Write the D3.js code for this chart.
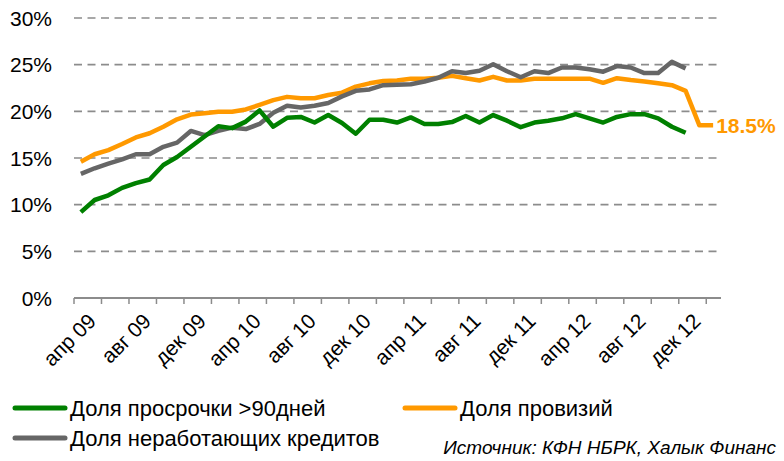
<!DOCTYPE html>
<html>
<head>
<meta charset="utf-8">
<script src="https://cdn.jsdelivr.net/npm/d3@7"></script>
<style>
  body { margin: 0; background: #fff; }
  text { font-family: "Liberation Sans", Arial, sans-serif; fill: #000; }
</style>
</head>
<body>
<svg id="chart" width="784" height="461"></svg>
<script>
// months apr 09 .. feb 13
var categories = ["апр 09","май 09","июн 09","июл 09","авг 09","сен 09","окт 09","ноя 09","дек 09",
  "янв 10","фев 10","мар 10","апр 10","май 10","июн 10","июл 10","авг 10","сен 10","окт 10","ноя 10","дек 10",
  "янв 11","фев 11","мар 11","апр 11","май 11","июн 11","июл 11","авг 11","сен 11","окт 11","ноя 11","дек 11",
  "янв 12","фев 12","мар 12","апр 12","май 12","июн 12","июл 12","авг 12","сен 12","окт 12","ноя 12","дек 12",
  "янв 13","фев 13"];
var tickLabels = ["апр 09","авг 09","дек 09","апр 10","авг 10","дек 10","апр 11","авг 11","дек 11","апр 12","авг 12","дек 12"];
var yTicks = [0, 5, 10, 15, 20, 25, 30];

var overdue90 = [9.2, 10.5, 11.0, 11.8, 12.3, 12.7, 14.25, 15.1, 16.2, 17.3, 18.4, 18.2, 18.9, 20.1, 18.35,
  19.3, 19.4, 18.8, 19.6, 18.75, 17.6, 19.1, 19.1, 18.8, 19.35, 18.65, 18.65, 18.85, 19.5, 18.8,
  19.6, 19.0, 18.3, 18.8, 19.0, 19.25, 19.7, 19.25, 18.8, 19.4, 19.7, 19.7, 19.25, 18.35, 17.7];
var provisions = [14.6, 15.4, 15.85, 16.5, 17.2, 17.65, 18.35, 19.15, 19.65, 19.8, 19.95, 19.95, 20.2, 20.7, 21.2,
  21.55, 21.4, 21.4, 21.75, 22.0, 22.65, 23.0, 23.25, 23.3, 23.5, 23.5, 23.6, 23.8, 23.55, 23.3,
  23.7, 23.3, 23.3, 23.5, 23.5, 23.5, 23.5, 23.5, 23.05, 23.55, 23.35, 23.2, 23.0, 22.8, 22.2, 18.5, 18.5];
var nonPerforming = [13.3, 13.9, 14.4, 14.85, 15.4, 15.4, 16.2, 16.65, 17.9, 17.45, 17.9, 18.25, 18.1, 18.65, 19.85,
  20.6, 20.4, 20.6, 20.9, 21.6, 22.2, 22.35, 22.8, 22.85, 22.9, 23.2, 23.6, 24.3, 24.1, 24.35,
  25.05, 24.3, 23.65, 24.3, 24.1, 24.7, 24.7, 24.5, 24.25, 24.85, 24.7, 24.1, 24.1, 25.3, 24.6];
var lastLabel = "18.5%";

var series = [
  { name: "Доля провизий", values: provisions, color: "#ff9900" },
  { name: "Доля неработающих кредитов", values: nonPerforming, color: "#666666" },
  { name: "Доля просрочки >90дней", values: overdue90, color: "#008000" }
];

var svg = d3.select("#chart");
var plotL = 74, plotR = 720, plotT = 18, plotB = 298;

var x = d3.scaleBand().domain(categories).range([plotL, plotR]).padding(0);
var y = d3.scaleLinear().domain([0, 30]).range([plotB, plotT]);
var cx = function (c) { return x(c) + x.bandwidth() / 2; };

// gridlines
svg.append("g").selectAll("line")
  .data(yTicks.filter(function (d) { return d > 0; }))
  .join("line")
  .attr("x1", plotL).attr("x2", plotR)
  .attr("y1", function (d) { return y(d); }).attr("y2", function (d) { return y(d); })
  .style("stroke", "#8c8c8c")
  .style("stroke-width", 1.6)
  .style("stroke-dasharray", "8,5.5");

// y labels
svg.append("g").selectAll("text")
  .data(yTicks)
  .join("text")
  .attr("x", 52)
  .attr("y", function (d) { return y(d); })
  .attr("dy", "0.36em")
  .attr("text-anchor", "end")
  .style("font-size", "21px")
  .text(function (d) { return d + "%"; });

// x axis line + ticks at every second category boundary
svg.append("line")
  .attr("x1", plotL).attr("x2", plotR + 1)
  .attr("y1", plotB).attr("y2", plotB)
  .style("stroke", "#8c8c8c").style("stroke-width", 2);
svg.append("g").selectAll("line")
  .data(categories.filter(function (c, i) { return i % 2 === 0; }))
  .join("line")
  .attr("x1", function (c) { return x(c); }).attr("x2", function (c) { return x(c); })
  .attr("y1", plotB).attr("y2", plotB + 6)
  .style("stroke", "#8c8c8c").style("stroke-width", 1.5);

svg.append("g").selectAll("text")
  .data(tickLabels)
  .join("text")
  .attr("transform", function (c) { return "translate(" + (cx(c) + 6) + "," + (plotB + 14) + ") rotate(-45)"; })
  .attr("text-anchor", "end")
  .attr("dy", "0.7em")
  .style("font-size", "21px")
  .text(function (c) { return c; });

// lines
var line = d3.line()
  .x(function (d, i) { return cx(categories[i]); })
  .y(function (d) { return y(d); });

svg.append("g").selectAll("path")
  .data(series)
  .join("path")
  .attr("d", function (s) { return line(s.values); })
  .style("fill", "none")
  .style("stroke", function (s) { return s.color; })
  .style("stroke-width", 4.5)
  .style("stroke-linejoin", "round");

// end label
var lastI = provisions.length - 1;
svg.append("text")
  .attr("x", cx(categories[lastI]) + 3)
  .attr("y", y(provisions[lastI]))
  .attr("dy", "0.36em")
  .style("font-size", "21px")
  .style("font-weight", "bold")
  .style("fill", "#ff9900")
  .text(lastLabel);

// legend
var legendItems = [
  { s: series[2], x: 15, y: 408 },
  { s: series[0], x: 405, y: 408 },
  { s: series[1], x: 15, y: 438 }
];
var lg = svg.append("g").selectAll("g").data(legendItems).join("g")
  .attr("transform", function (d) { return "translate(" + d.x + "," + d.y + ")"; });
lg.append("line")
  .attr("x1", 0).attr("x2", 50)
  .style("stroke", function (d) { return d.s.color; })
  .style("stroke-width", 5)
  .style("stroke-linecap", "round");
lg.append("text")
  .attr("x", 55)
  .attr("dy", "0.36em")
  .style("font-size", "22px")
  .text(function (d) { return d.s.name; });

svg.append("text")
  .attr("x", 776)
  .attr("y", 447)
  .attr("dy", "0.36em")
  .attr("text-anchor", "end")
  .style("font-size", "19px")
  .style("font-style", "italic")
  .text("Источник: КФН НБРК, Халык Финанс");
</script>
</body>
</html>
